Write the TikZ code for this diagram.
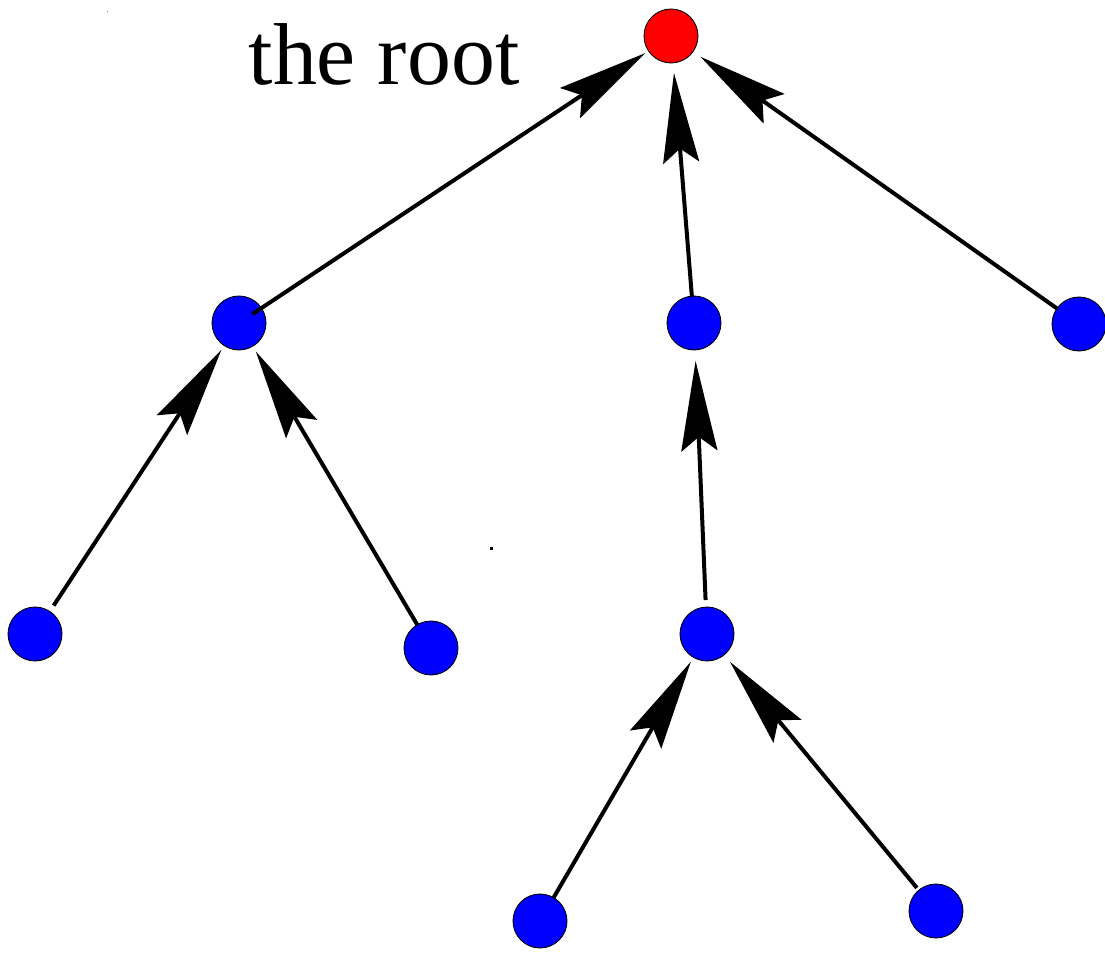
\documentclass[tikz,border=0pt]{standalone}
\usepackage{fontspec}
\setmainfont{Liberation Serif}
\usetikzlibrary{arrows.meta}
\begin{document}
\begin{tikzpicture}[x=0.02cm,y=-0.02cm,
  vert/.style={circle,draw=black,line width=0.5pt,minimum size=1.08cm,inner sep=0pt},
  rootv/.style={vert,fill=red},
  bluev/.style={vert,fill=blue},
  edge/.style={line width=0.08cm,
    -{Stealth[length=1.8cm,width=0.72cm,inset=0.28cm]}}]
\useasboundingbox (0,0) rectangle (1105,955);
\node[rootv] (r) at (671,36) {};
\node[bluev] (a) at (239,323) {};
\node[bluev] (b) at (694,323) {};
\node[bluev] (c) at (1079,324) {};
\node[bluev] (a1) at (35,634) {};
\node[bluev] (a2) at (431,648) {};
\node[bluev] (b1) at (707,634) {};
\node[bluev] (b11) at (540,921) {};
\node[bluev] (b12) at (936,911) {};
\node[font=\fontsize{50}{60}\selectfont,anchor=base,inner sep=0pt] (lbl) at (384,85) {the root};
\draw[edge,shorten <=0.32cm,shorten >=0.62cm] (a.center) -- (r.center);
\draw[edge,shorten <=0.52cm,shorten >=0.74cm] (b.center) -- (r.center);
\draw[edge,shorten <=0.52cm,shorten >=0.72cm] (c.center) -- (r.center);
\draw[edge,shorten <=0.68cm,shorten >=0.64cm] (a1.center) -- (a.center);
\draw[edge,shorten <=0.54cm,shorten >=0.66cm] (a2.center) -- (a.center);
\draw[edge,shorten <=0.68cm,shorten >=0.76cm] (b1.center) -- (b.center);
\draw[edge,shorten <=0.54cm,shorten >=0.64cm] (b11.center) -- (b1.center);
\draw[edge,shorten <=0.60cm,shorten >=0.72cm] (b12.center) -- (b1.center);
\fill[black] (489.5,547.5) rectangle (492.5,550.5);
\fill[gray] (106.5,11.5) rectangle (107.5,12.5);
\end{tikzpicture}
\end{document}
